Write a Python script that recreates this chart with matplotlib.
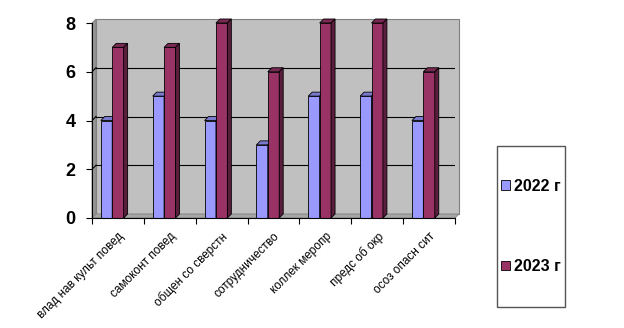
import matplotlib.pyplot as plt
import numpy as np
from matplotlib.patches import Polygon, Rectangle

# --- data ---
categories = ["влад нав культ повед", "самоконт повед", "общен со сверстн",
              "сотрудничество", "коллек меропр", "предс об окр", "осоз опасн сит"]
vals_2022 = [4, 5, 4, 3, 5, 5, 4]
vals_2023 = [7, 7, 8, 6, 8, 8, 6]
series_names = ["2022 г", "2023 г"]
y_ticks = [0, 2, 4, 6, 8]

# --- style ---
plt.rcParams['font.family'] = ['Liberation Sans', 'DejaVu Sans']
front = ['#9999FF', '#993366']
top = ['#7A7ACC', '#7A2952']
side = ['#5C5C99', '#5A1E3C']
DX, DY = 0.077, 0.164  # pseudo 3D depth in data units
W = 0.22
offs = [0.17, 0.39]


def main():
    fig = plt.figure(figsize=(6.24, 3.28), dpi=100)
    ax = fig.add_axes([92 / 624, 1 - 218 / 328, 363 / 624, 195 / 328])
    n = len(categories)
    ymax = y_ticks[-1]
    ax.set_xlim(0, n)
    ax.set_ylim(0, ymax)
    ax.set_facecolor('none')
    for s in ax.spines.values():
        s.set_visible(False)

    # walls and floor
    ax.add_patch(Rectangle((DX, DY), n, ymax, facecolor='#C0C0C0',
                           edgecolor='#808080', lw=0.8, zorder=0, clip_on=False))
    ax.add_patch(Polygon([(0, 0), (DX, DY), (DX, ymax + DY), (0, ymax)],
                         facecolor='#969696', edgecolor='#808080', lw=0.6,
                         zorder=0.5, clip_on=False))
    ax.add_patch(Polygon([(0, 0), (n, 0), (n + DX, DY), (DX, DY)],
                         facecolor='#A6A6A6', edgecolor='#808080', lw=0.6,
                         zorder=0.5, clip_on=False))
    for v in y_ticks[1:-1]:
        ax.plot([DX, n + DX], [v + DY, v + DY], color='black', lw=0.8, zorder=1)
        ax.plot([0, DX], [v, v + DY], color='black', lw=0.8, zorder=1)

    # bars
    x = np.arange(n)
    series = [vals_2022, vals_2023]
    handles = []
    for k, vals in enumerate(series):
        z = 3 + k
        b = ax.bar(x + offs[k], vals, width=W, align='edge', color=front[k],
                   edgecolor='black', lw=0.6, zorder=z, clip_on=False)
        handles.append(b)
        for xi, h in zip(x + offs[k], vals):
            ax.add_patch(Polygon([(xi, h), (xi + W, h), (xi + W + DX, h + DY), (xi + DX, h + DY)],
                                 facecolor=top[k], edgecolor='black', lw=0.6,
                                 zorder=z + 0.1, clip_on=False))
            ax.add_patch(Polygon([(xi + W, 0), (xi + W, h), (xi + W + DX, h + DY), (xi + W + DX, DY)],
                                 facecolor=side[k], edgecolor='black', lw=0.6,
                                 zorder=z + 0.1, clip_on=False))

    # axes lines
    ax.plot([0, 0], [0, ymax], color='black', lw=0.8, zorder=6, clip_on=False)
    ax.plot([0, n], [0, 0], color='black', lw=0.8, zorder=6, clip_on=False)
    ax.set_yticks(y_ticks)
    ax.set_yticklabels([str(v) for v in y_ticks], fontsize=13, fontweight='bold')
    ax.tick_params(axis='y', length=4, width=0.8, pad=8)
    ax.set_xticks(range(n + 1))
    ax.set_xticklabels([])
    ax.tick_params(axis='x', which='major', length=4, width=0.8)
    ax.set_xticks(x + 0.5, minor=True)
    ax.set_xticklabels(categories, minor=True, rotation=45, ha='right', va='top',
                       rotation_mode='anchor', fontsize=8.5)
    ax.tick_params(axis='x', which='minor', length=0, pad=9)

    # legend box
    fig.patches.append(Rectangle((497 / 624, 1 - 307 / 328), 68 / 624, 161 / 328,
                                 transform=fig.transFigure, facecolor='white',
                                 edgecolor='#555555', lw=1.0))
    fig.legend(handles, series_names, loc='center',
               bbox_to_anchor=(531 / 624, 1 - 226.5 / 328), frameon=False,
               prop={'weight': 'bold', 'size': 11.5}, handlelength=0.55,
               handleheight=0.55, handletextpad=0.3, labelspacing=4.1)

    fig.savefig('out.png', dpi=100)


if __name__ == "__main__":
    main()
